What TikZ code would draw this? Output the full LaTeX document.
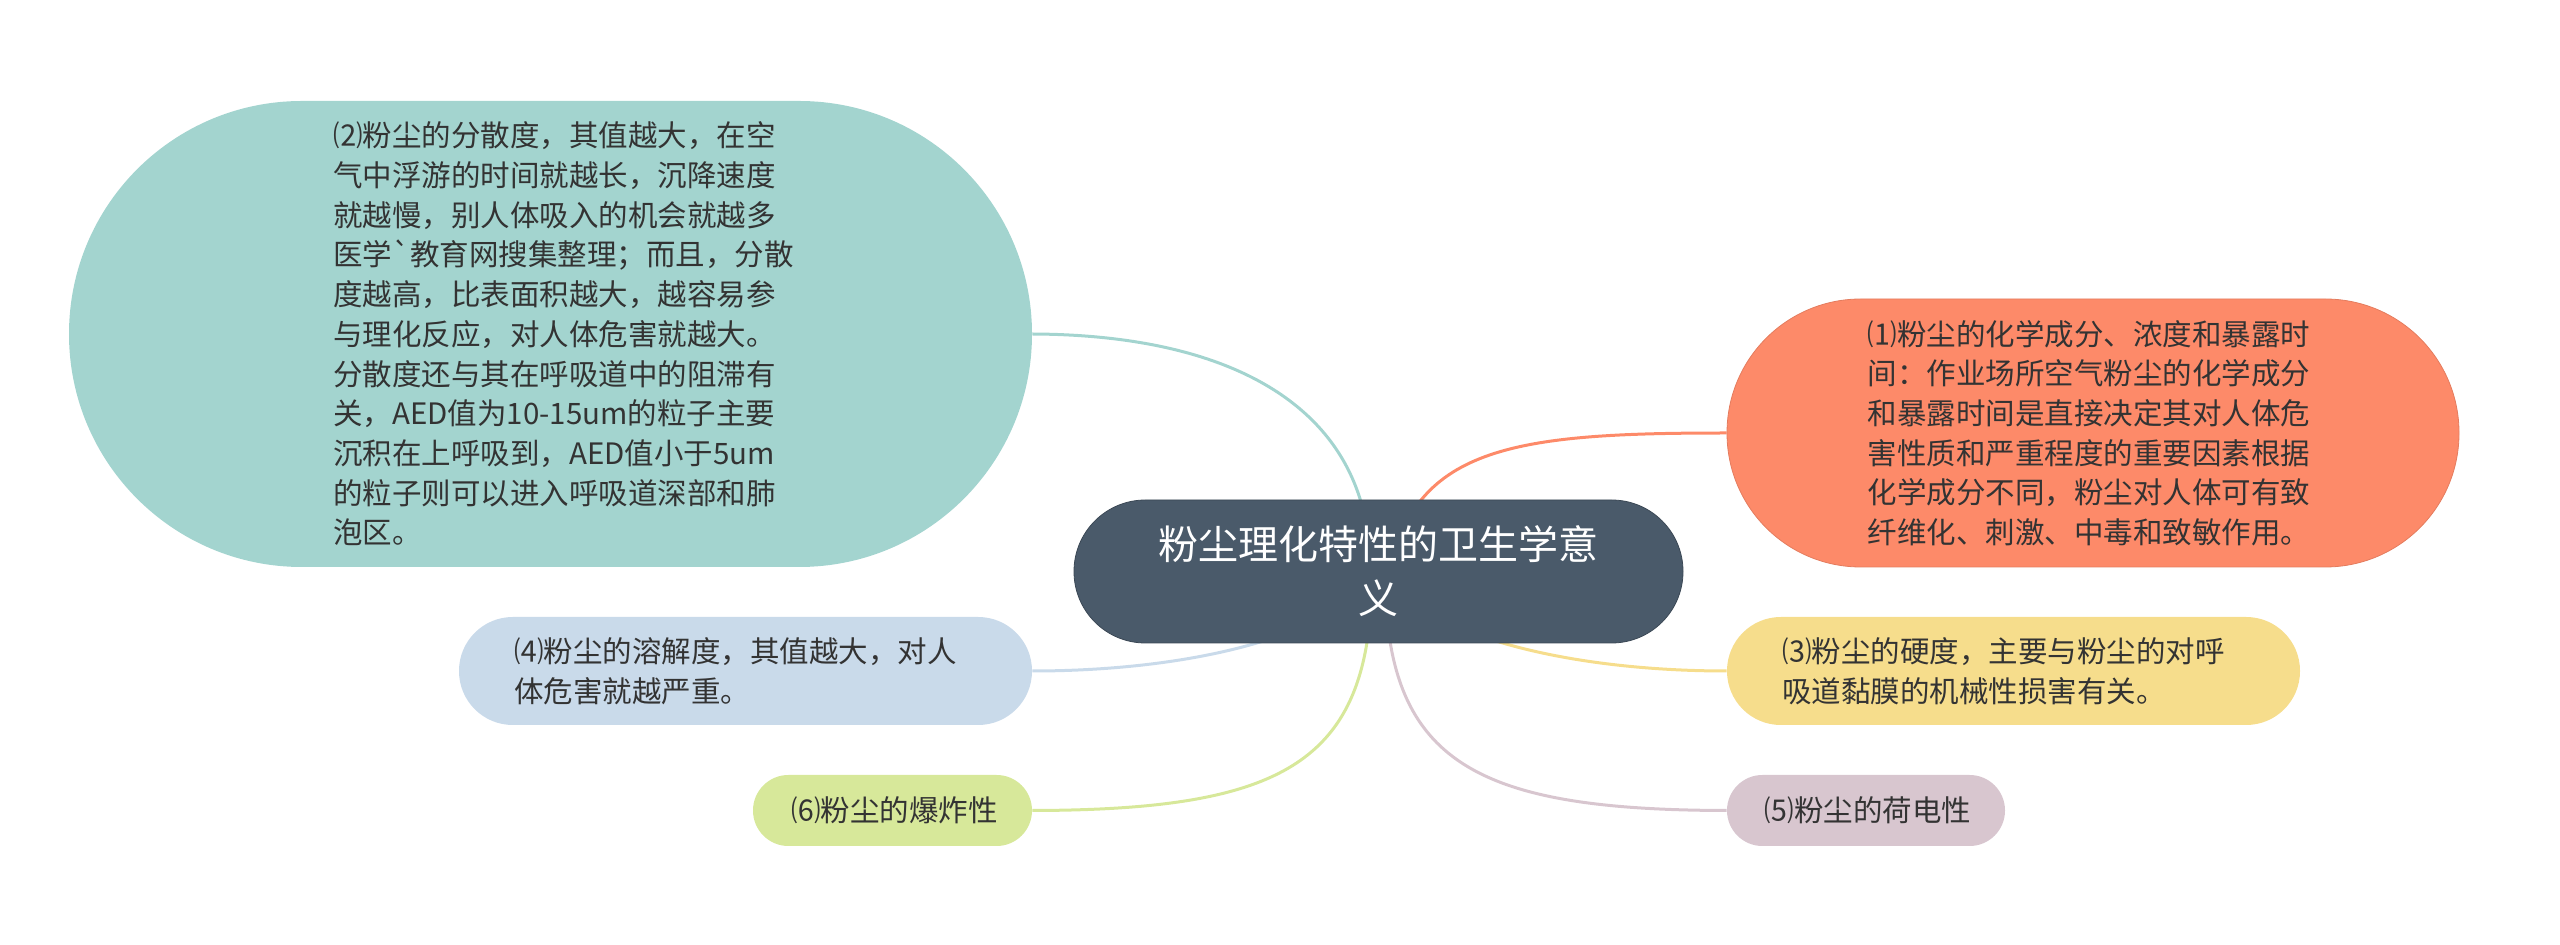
\documentclass[tikz,border=0pt]{standalone}
\usepackage{fontspec}
\newfontfamily\cjk{Noto Sans CJK SC}
\usetikzlibrary{backgrounds}
\definecolor{ctr}{HTML}{4A5A6A}
\definecolor{tealc}{HTML}{A3D4CF}
\definecolor{salm}{HTML}{FD8A69}
\definecolor{blu}{HTML}{C9DAEA}
\definecolor{yel}{HTML}{F6DD8C}
\definecolor{grn}{HTML}{D7E89A}
\definecolor{mauv}{HTML}{D8C6CF}
\definecolor{txt}{HTML}{333333}
\begin{document}
\begin{tikzpicture}[x=0.5pt,y=-0.5pt,
  topic/.style={rectangle, inner sep=0pt},
  ttext/.style={inner sep=0pt, align=left, text=txt,
    font=\cjk\fontsize{14.75pt}{19.85pt}\selectfont},
  link/.style={line width=1.5pt},
]
\useasboundingbox (0,0) rectangle (2560,945);

\node[rectangle, inner sep=0pt, fill=ctr, draw=ctr!80!black, line width=0.4pt,
  minimum width=304.5pt, minimum height=71.5pt, rounded corners=35.7pt,
  align=center, text=white, font=\cjk\fontsize{20pt}{27pt}\selectfont]
  (c) at (1378.5,571.5) {粉尘理化特性的卫生学意\\义};

\node[topic, fill=tealc, minimum width=481.5pt, minimum height=233pt, rounded corners=116.4pt]
  (n2) at (550.5,334) {};
\node[ttext] (t2) at ([xshift=6.5pt]n2.center) {⑵粉尘的分散度，其值越大，在空\\气中浮游的时间就越长，沉降速度\\就越慢，别人体吸入的机会就越多\\医学`教育网搜集整理；而且，分散\\度越高，比表面积越大，越容易参\\与理化反应，对人体危害就越大。\\分散度还与其在呼吸道中的阻滞有\\关，AED值为10-15um的粒子主要\\沉积在上呼吸到，AED值小于5um\\的粒子则可以进入呼吸道深部和肺\\泡区。};

\node[topic, fill=salm, draw=salm!90!black, line width=0.4pt, minimum width=366pt, minimum height=134pt, rounded corners=66.9pt]
  (n1) at (2093,433) {};
\node[ttext] (t1) at ([xshift=-2pt]n1.center) {⑴粉尘的化学成分、浓度和暴露时\\间：作业场所空气粉尘的化学成分\\和暴露时间是直接决定其对人体危\\害性质和严重程度的重要因素根据\\化学成分不同，粉尘对人体可有致\\纤维化、刺激、中毒和致敏作用。};

\node[topic, fill=blu, minimum width=286.5pt, minimum height=54pt, rounded corners=26.9pt]
  (n4) at (745.5,671) {};
\node[ttext] (t4) at ([xshift=-5pt]n4.center) {⑷粉尘的溶解度，其值越大，对人\\体危害就越严重。};

\node[topic, fill=yel, minimum width=286.5pt, minimum height=54pt, rounded corners=26.9pt]
  (n3) at (2013.5,671) {};
\node[ttext] (t3) at ([xshift=-5pt]n3.center) {⑶粉尘的硬度，主要与粉尘的对呼\\吸道黏膜的机械性损害有关。};

\node[topic, fill=grn, minimum width=139.5pt, minimum height=35.5pt, rounded corners=17.7pt]
  (n6) at (892.5,810.5) {};
\node[ttext] (t6) at ([xshift=1pt]n6.center) {⑹粉尘的爆炸性};

\node[topic, fill=mauv, minimum width=139pt, minimum height=35.5pt, rounded corners=17.7pt]
  (n5) at (1866,810.5) {};
\node[ttext] (t5) at ([xshift=1pt]n5.center) {⑸粉尘的荷电性};

\begin{pgfonlayer}{background}
\draw[link, tealc] ([xshift=-4.25pt]c.center) .. controls (1372,420) and (1250,335) .. (n2.east);
\draw[link, salm] ([xshift=5.75pt]c.center) .. controls (1415,445) and (1520,433) .. (n1.west);
\draw[link, blu] (c.center) .. controls (1330,640) and (1180,671) .. (n4.east);
\draw[link, yel] (c.center) .. controls (1430,640) and (1580,671) .. (n3.west);
\draw[link, grn] ([xshift=-3.25pt]c.center) .. controls (1372,760) and (1290,810) .. (n6.east);
\draw[link, mauv] ([xshift=3.25pt]c.center) .. controls (1385,760) and (1470,810) .. (n5.west);
\end{pgfonlayer}
\end{tikzpicture}
\end{document}
